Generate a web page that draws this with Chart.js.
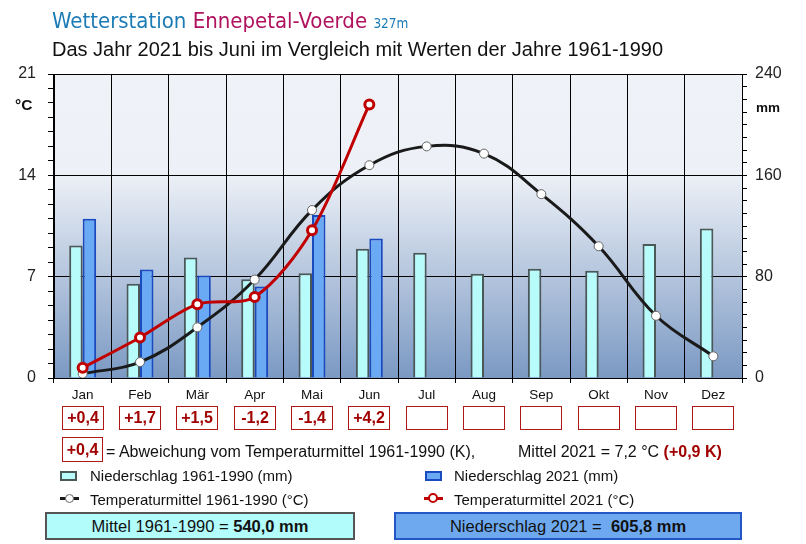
<!DOCTYPE html>
<html>
<head>
<meta charset="utf-8">
<script src="https://cdn.jsdelivr.net/npm/chart.js@4"></script>
<style>
  body { margin: 0; background: #fff; }
  #wrap { position: relative; width: 806px; height: 544px; font-family: "Liberation Sans", Arial, sans-serif; }
  #wrap canvas { position: absolute; left: 0; top: 0; }
  .t { position: absolute; white-space: nowrap; line-height: 1; color: #111; }
  .dev { display: inline-block; border: 1px solid #b01818; color: #a00000; font-weight: bold; }
  .sum { position: absolute; top: 512px; height: 24px; line-height: 25px; text-align: center; font-size: 16.5px; color: #111; }
</style>
</head>
<body>
<div id="wrap">
  <canvas id="klima" width="806" height="544"></canvas>

  <div class="t" style="left:52px;top:9.5px;font-family:'DejaVu Sans Condensed','DejaVu Sans';font-stretch:condensed;font-size:22px;">
    <span style="color:#1b7bb6">Wetterstation</span> <span style="color:#b0125e">Ennepetal-Voerde</span>
    <span style="color:#1b7bb6;font-size:13.5px">327m</span>
  </div>
  <div class="t" style="left:52px;top:39.4px;font-size:20px;">Das Jahr 2021 bis Juni im Vergleich mit Werten der Jahre 1961-1990</div>

  <div class="t" style="left:15px;top:97px;font-size:15.5px;font-weight:bold;">°C</div>
  <div class="t" style="left:756px;top:100.5px;font-size:13.5px;font-weight:bold;">mm</div>

  <div class="t" style="left:62px;top:437px;font-size:16px;">
    <span class="dev" style="width:39px;height:23px;line-height:23px;text-align:center;font-size:16px;">+0,4</span>
  </div>
  <div class="t" style="left:106px;top:443.5px;font-size:16px;">= Abweichung vom Temperaturmittel 1961-1990 (K),</div>
  <div class="t" style="left:518px;top:443.5px;font-size:16px;">Mittel 2021 = 7,2 °C <b style="color:#a00000">(+0,9 K)</b></div>

  <div style="position:absolute;left:60px;top:471px;width:13px;height:6px;background:#b8fbfb;border:2px solid #4a5858;"></div>
  <div class="t" style="left:90px;top:467.5px;font-size:15px;">Niederschlag 1961-1990 (mm)</div>
  <div style="position:absolute;left:425px;top:471px;width:13px;height:6px;background:#6aaaf5;border:2px solid #1a4ac0;"></div>
  <div class="t" style="left:454px;top:467.5px;font-size:15px;">Niederschlag 2021 (mm)</div>

  <div style="position:absolute;left:60px;top:497px;width:19px;height:3px;background:#1a1a1a;"></div>
  <div style="position:absolute;left:65px;top:494px;width:7px;height:7px;border-radius:50%;background:#fff;border:1px solid #666;"></div>
  <div class="t" style="left:90px;top:491.5px;font-size:15px;">Temperaturmittel 1961-1990 (°C)</div>
  <div style="position:absolute;left:424px;top:497px;width:19px;height:3px;background:#c00000;"></div>
  <div style="position:absolute;left:428px;top:493px;width:6px;height:6px;border-radius:50%;background:#fff;border:2.5px solid #c00000;"></div>
  <div class="t" style="left:454px;top:491.5px;font-size:15px;">Temperaturmittel 2021 (°C)</div>

  <div class="sum" style="left:45px;width:306px;background:#b3fcfc;border:2px solid #555;">Mittel 1961-1990 = <b>540,0 mm</b></div>
  <div class="sum" style="left:394px;width:344px;background:#6ea9f0;border:2px solid #2456c4;">Niederschlag 2021 =&nbsp; <b>605,8 mm</b></div>
</div>

<script>
const months = ['Jan', 'Feb', 'Mär', 'Apr', 'Mai', 'Jun', 'Jul', 'Aug', 'Sep', 'Okt', 'Nov', 'Dez'];
const rainNorm = [104.6, 74.5, 95.2, 77.9, 82.6, 102.0, 98.9, 82.3, 86.3, 84.7, 105.7, 118.0];
const rain2021 = [125.7, 85.7, 81.0, 72.3, 128.6, 110.2, null, null, null, null, null, null];
const tempNorm = [0.3, 1.1, 3.5, 6.8, 11.6, 14.7, 16.0, 15.5, 12.7, 9.1, 4.3, 1.5];
const temp2021 = [0.7, 2.8, 5.1, 5.6, 10.2, 18.9, null, null, null, null, null, null];
const deviations = ['+0,4', '+1,7', '+1,5', '-1,2', '-1,4', '+4,2', '', '', '', '', '', ''];
const tempTicks = [0, 7, 14, 21];
const rainTicks = [0, 80, 160, 240];

const FONT = 'Liberation Sans, Arial, sans-serif';

const plotBackground = {
    id: 'plotBackground',
    beforeDraw(chart) {
        const { ctx, chartArea: a } = chart;
        const g = ctx.createLinearGradient(0, a.top, 0, a.bottom);
        g.addColorStop(0, '#eff3f8');
        g.addColorStop(0.33, '#edf1f7');
        g.addColorStop(1, '#7b99c3');
        ctx.save();
        ctx.fillStyle = g;
        ctx.fillRect(a.left, a.top, a.right - a.left, a.bottom - a.top);
        ctx.restore();
    }
};

const deviationBoxes = {
    id: 'deviationBoxes',
    afterDraw(chart) {
        const { ctx } = chart;
        const x = chart.scales.x;
        ctx.save();
        ctx.strokeStyle = '#b01818';
        ctx.lineWidth = 1;
        ctx.fillStyle = '#a00000';
        ctx.font = 'bold 16px ' + FONT;
        ctx.textAlign = 'center';
        ctx.textBaseline = 'middle';
        deviations.forEach((d, i) => {
            const cx = Math.round(x.getPixelForValue(i));
            ctx.strokeRect(cx - 20.5, 406.5, 41, 23);
            if (d) ctx.fillText(d, cx, 419);
        });
        ctx.restore();
    }
};

new Chart(document.getElementById('klima'), {
    data: {
        labels: months,
        datasets: [
            { type: 'line', label: 'Temperaturmittel 2021 (°C)', data: temp2021, yAxisID: 'y', order: 0,
              borderColor: '#c00000', borderWidth: 3, tension: 0.3,
              pointRadius: 4.5, pointBorderWidth: 3, pointBorderColor: '#c00000', pointBackgroundColor: '#fff' },
            { type: 'line', label: 'Temperaturmittel 1961-1990 (°C)', data: tempNorm, yAxisID: 'y', order: 1,
              borderColor: '#1a1a1a', borderWidth: 3, tension: 0.4,
              pointRadius: 4.5, pointBorderWidth: 1, pointBorderColor: '#666', pointBackgroundColor: '#fff' },
            { type: 'bar', label: 'Niederschlag 1961-1990 (mm)', data: rainNorm, yAxisID: 'y1', order: 2,
              backgroundColor: '#b8fbfb', borderColor: '#4a5858', borderWidth: 2,
              categoryPercentage: 0.47, barPercentage: 1 },
            { type: 'bar', label: 'Niederschlag 2021 (mm)', data: rain2021, yAxisID: 'y1', order: 2,
              backgroundColor: '#6aaaf5', borderColor: '#1a4ac0', borderWidth: 2,
              categoryPercentage: 0.47, barPercentage: 1 }
        ]
    },
    options: {
        responsive: false,
        animation: false,
        layout: { padding: { top: 74, left: 0, right: 0, bottom: 0 } },
        plugins: { legend: { display: false }, tooltip: { enabled: false } },
        scales: {
            x: {
                offset: true,
                grid: { color: '#000', offset: true, tickLength: 5, tickColor: '#000' },
                border: { color: '#000' },
                ticks: { color: '#111', font: { family: FONT, size: 13.5 }, padding: 4, maxRotation: 0 },
                afterFit(s) { s.height = 166; }
            },
            y: {
                position: 'left', min: 0, max: 21,
                grid: { color: c => tempTicks.includes(c.tick.value) ? '#000' : 'rgba(0,0,0,0)', tickColor: '#000', tickLength: 6 },
                border: { color: '#000' },
                ticks: { stepSize: 1, autoSkip: false, color: '#222', padding: 12, font: { family: FONT, size: 16 },
                         callback: v => tempTicks.includes(v) ? v : '' },
                afterFit(s) { s.width = 54; }
            },
            y1: {
                position: 'right', min: 0, max: 240,
                grid: { drawOnChartArea: false, tickColor: '#000', tickLength: 5 },
                border: { color: '#000' },
                ticks: { stepSize: 10, autoSkip: false, color: '#222', padding: 8, font: { family: FONT, size: 16 },
                         callback: v => rainTicks.includes(v) ? v : '' },
                afterFit(s) { s.width = 64; }
            }
        }
    },
    plugins: [plotBackground, deviationBoxes]
});
</script>
</body>
</html>
